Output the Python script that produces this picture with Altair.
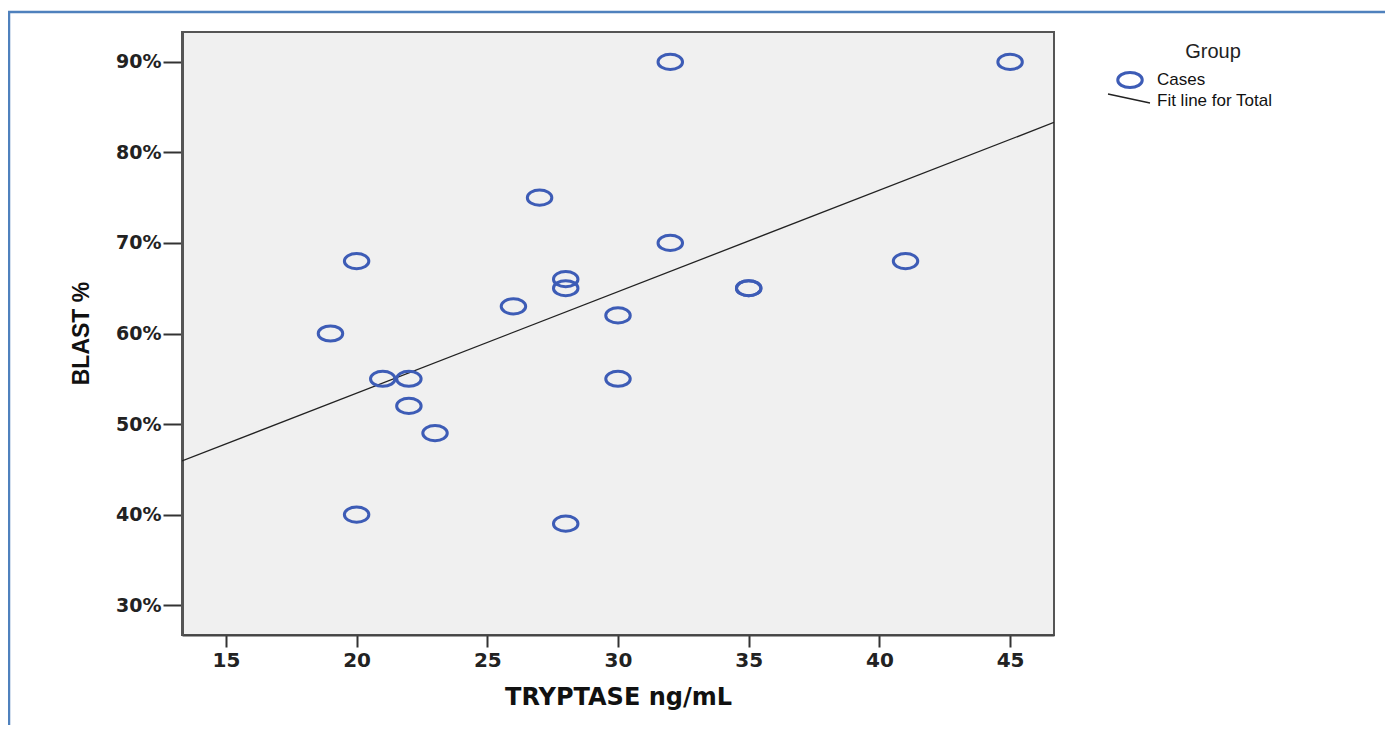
import altair as alt
import pandas as pd

# data
tryptase = [19, 20, 20, 21, 22, 22, 23, 26, 27, 28, 28, 28, 30, 30, 32, 32, 35, 35, 41, 45]
blast = [60, 68, 40, 55, 55, 52, 49, 63, 75, 66, 65, 39, 62, 55, 90, 70, 65, 65, 68, 90]
x_ticks = [15, 20, 25, 30, 35, 40, 45]
y_ticks = [30, 40, 50, 60, 70, 80, 90]

df = pd.DataFrame({"tryptase": tryptase, "blast": blast})

W, H = 872, 603
X_DOM = [13.32, 46.68]
Y_DOM = [26.7, 93.3]
ELLIPSE = "M-1,0A1,0.62,0,1,0,1,0A1,0.62,0,1,0,-1,0Z"
BLUE = "#3d5cb6"

xs = alt.Scale(domain=X_DOM, nice=False, zero=False)
ys = alt.Scale(domain=Y_DOM, nice=False, zero=False)

x_axis = alt.Axis(
    values=x_ticks, grid=False, title="TRYPTASE ng/mL",
    labelFont="DejaVu Sans", labelFontWeight="bold", labelFontSize=20, labelColor="#222",
    labelPadding=3, tickSize=12, tickWidth=2, tickColor="#333",
    domainColor="#444", domainWidth=2,
    titleFont="DejaVu Sans", titleFontWeight="bold", titleFontSize=24, titleColor="#111",
    titleY=69, titleBaseline="alphabetic",
)
y_axis = alt.Axis(
    values=y_ticks, grid=False, title="BLAST %",
    labelExpr="datum.value + '%'",
    labelFont="DejaVu Sans", labelFontWeight="bold", labelFontSize=19, labelColor="#222",
    labelPadding=2, tickSize=19, tickWidth=2, tickColor="#333",
    domainColor="#555", domainWidth=3,
    titleFont="Liberation Sans", titleFontWeight="bold", titleFontSize=23, titleColor="#111",
    titleX=-101, titleY=301, titleAngle=-90, titleAlign="center", titleBaseline="middle",
)

base = alt.Chart(df)

frame = alt.Chart(pd.DataFrame({"a": [0]})).mark_rect(
    filled=False, stroke="#4f81bd", strokeWidth=2.5
).encode(
    x=alt.value(-173), x2=alt.value(3000), y=alt.value(-20), y2=alt.value(3000)
)

points = base.mark_point(
    shape=ELLIPSE, size=600, filled=False, strokeWidth=3, color=BLUE, opacity=1
).encode(
    x=alt.X("tryptase:Q", scale=xs, axis=x_axis),
    y=alt.Y("blast:Q", scale=ys, axis=y_axis),
)

fit = base.transform_regression(
    "tryptase", "blast", extent=X_DOM
).mark_line(color="#222", strokeWidth=1.3, clip=True).encode(
    x=alt.X("tryptase:Q", scale=xs),
    y=alt.Y("blast:Q", scale=ys),
)

ldf = pd.DataFrame({"a": [0]})
leg_title = alt.Chart(ldf).mark_text(
    font="Liberation Sans", fontSize=20, color="#222", align="center", baseline="middle"
).encode(x=alt.value(1031), y=alt.value(20), text=alt.value("Group"))
leg_pt = alt.Chart(ldf).mark_point(
    shape=ELLIPSE, size=600, filled=False, strokeWidth=3, color=BLUE, opacity=1
).encode(x=alt.value(948), y=alt.value(48))
leg_cases = alt.Chart(ldf).mark_text(
    font="Liberation Sans", fontSize=17, color="#111", align="left", baseline="middle"
).encode(x=alt.value(975), y=alt.value(48), text=alt.value("Cases"))
leg_line = alt.Chart(ldf).mark_rule(color="#222", strokeWidth=1.3).encode(
    x=alt.value(926), x2=alt.value(968), y=alt.value(62), y2=alt.value(71)
)
leg_fit = alt.Chart(ldf).mark_text(
    font="Liberation Sans", fontSize=17, color="#111", align="left", baseline="middle"
).encode(x=alt.value(975), y=alt.value(69), text=alt.value("Fit line for Total"))

chart = alt.layer(
    frame, fit, points, leg_title, leg_pt, leg_cases, leg_line, leg_fit
).properties(
    width=W, height=H,
    autosize=alt.AutoSizeParams(type="none"),
    padding={"left": 174, "top": 24, "right": 331, "bottom": 90},
    background="white",
).configure_view(
    fill="#f0f0f0", stroke="#555", strokeWidth=2
)

chart.save("out.html", embed_options={"renderer": "svg", "actions": False})
